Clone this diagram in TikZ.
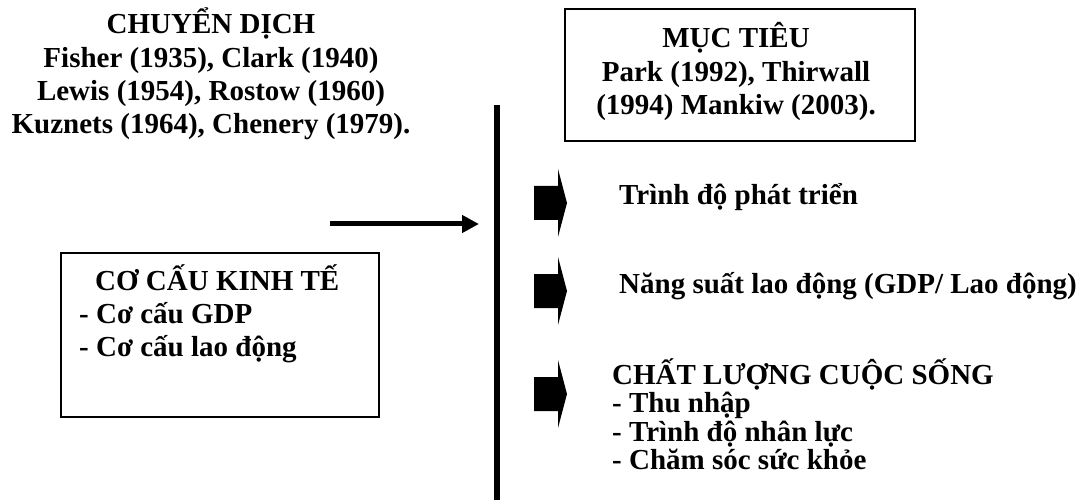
\documentclass[tikz,border=0pt]{standalone}
\usepackage{fontspec}
\setmainfont{Liberation Serif}
\usetikzlibrary{arrows.meta}
\begin{document}
\begin{tikzpicture}[x=1pt,y=1pt,
  txt/.style={font=\fontsize{29}{33}\selectfont\bfseries, inner sep=0pt},
  cline/.style={txt, anchor=base},
  lline/.style={txt, anchor=base west},
  boxline/.style={draw, line width=2pt, inner sep=0pt},
  blockarrow/.style={fill=black}]
\useasboundingbox (0,0) rectangle (1088,-500);

% top-left authors block
\node[cline] (c1) at (211,-34) {CHUYỂN DỊCH};
\node[cline] (c2) at (211,-67.4) {Fisher (1935), Clark (1940)};
\node[cline] (c3) at (211,-100.7) {Lewis (1954), Rostow (1960)};
\node[cline] (c4) at (211,-134) {Kuznets (1964), Chenery (1979).};

% top-right box
\node[boxline, minimum width=350pt, minimum height=132pt] (muctieu) at (740,-75) {};
\node[cline] (m1) at (736,-48) {MỤC TIÊU};
\node[cline] (m2) at (736,-81.4) {Park (1992), Thirwall};
\node[cline] (m3) at (736,-114.7) {(1994) Mankiw (2003).};

% left box
\node[boxline, minimum width=318pt, minimum height=164pt] (cocau) at (220,-335) {};
\node[lline] (k1) at (95,-290) {CƠ CẤU KINH TẾ};
\node[lline] (k2) at (79,-323.4) {- Cơ cấu GDP};
\node[lline] (k3) at (79,-356.7) {- Cơ cấu lao động};

% vertical divider
\coordinate (vtop) at (497,-105);
\coordinate (vbot) at (497,-500);
\draw[line width=6pt] (vtop) -- (vbot);

% horizontal arrow
\coordinate (hs) at (330,-224);
\coordinate (he) at (479,-224);
\draw[line width=5pt, -{Triangle[length=17pt,width=17pt]}] (hs) -- (he);

% block arrows
\foreach \yy in {203,291,394}{
  \fill[blockarrow] (534,{17-\yy}) -- (558,{17-\yy}) -- (558,{34-\yy}) -- (567,-\yy)
    -- (558,{-34-\yy}) -- (558,{-17-\yy}) -- (534,{-17-\yy}) -- cycle;
}

% right texts
\node[lline] (t1) at (619,-205) {Trình độ phát triển};
\node[lline] (t2) at (619,-293) {Năng suất lao động (GDP/ Lao động)};
\node[lline] (q1) at (612,-384) {CHẤT LƯỢNG CUỘC SỐNG};
\node[lline] (q2) at (612,-412.5) {- Thu nhập};
\node[lline] (q3) at (612,-441) {- Trình độ nhân lực};
\node[lline] (q4) at (612,-469.5) {- Chăm sóc sức khỏe};
\end{tikzpicture}
\end{document}
